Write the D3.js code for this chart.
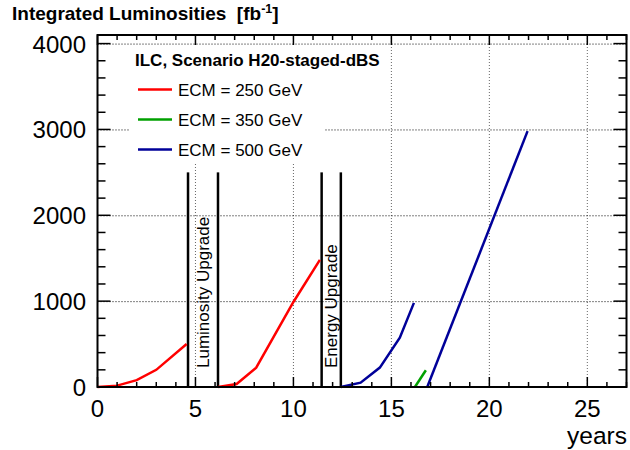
<!DOCTYPE html>
<html><head><meta charset="utf-8">
<script src="https://cdn.jsdelivr.net/npm/d3@7"></script>
<style>body{margin:0;background:#fff}svg{display:block;font-family:"Liberation Sans",Arial,sans-serif}</style>
</head><body>
<script>
// ---- data ----
const xTicks = [0,5,10,15,20,25];
const yTicks = [0,1000,2000,3000,4000];
const seriesNames = ["ECM = 250 GeV","ECM = 350 GeV","ECM = 500 GeV"];
const seriesColors = ["#ff0000","#00a000","#000099"];
const red1 = [[0,0],[1,16],[2,80],[3,200],[4.55,500]];
const red2 = [[6.16,0],[7.1,35],[8.1,225],[10,990],[11.35,1480]];
const green1 = [[16.2,0],[16.76,195]];
const blue1 = [[12.42,0],[13.43,50],[14.41,226],[15.43,575],[16.15,980]];
const blue2 = [[16.83,0],[21.95,2980]];
const upgrades = [{label:"Luminosity Upgrade", x0:4.62, x1:6.15},{label:"Energy Upgrade", x0:11.44, x1:12.42}];
const upgradeHeight = 2500;
const title = "Integrated Luminosities  [fb";
const legendHeader = "ILC, Scenario H20-staged-dBS";

const W=630,H=450;
const L=97.5,R=626.5,T=35,B=387;
const x=d3.scaleLinear().domain([0,27]).range([L,R]);
const y=d3.scaleLinear().domain([0,4100]).range([B,T]);
const svg=d3.select("body").append("svg").attr("width",W).attr("height",H);

// grid
const g=svg.append("g");
g.selectAll(".vg").data(xTicks.filter(d=>d>0)).join("line")
 .attr("x1",d=>x(d)).attr("x2",d=>x(d)).attr("y1",T).attr("y2",B)
 .attr("stroke","#666").attr("stroke-width",1).attr("stroke-dasharray","1,2");
g.selectAll(".hg").data(yTicks.filter(d=>d>0)).join("line")
 .attr("x1",L).attr("x2",R).attr("y1",d=>y(d)+0.5).attr("y2",d=>y(d)+0.5)
 .attr("stroke","#000").attr("stroke-width",1).attr("stroke-dasharray","1,2");

// legend background
svg.append("rect").attr("x",130).attr("y",46).attr("width",195).attr("height",117).attr("fill","#fff");

// upgrade boxes
upgrades.forEach(u=>{
  [u.x0,u.x1].forEach(v=>{
    svg.append("line").attr("x1",x(v)).attr("x2",x(v)).attr("y1",y(0)).attr("y2",y(upgradeHeight))
      .attr("stroke","#000").attr("stroke-width",2.5);
  });
  const cx=(x(u.x0)+x(u.x1))/2;
  svg.append("text").attr("transform",`translate(${cx+6},${y(0)-19}) rotate(-90)`)
    .attr("font-size",17).attr("fill","#000").text(u.label);
});

// lines
const line=d3.line().x(d=>x(d[0])).y(d=>y(d[1]));
[[red1,0],[red2,0],[green1,1],[blue1,2],[blue2,2]].forEach(([d,i])=>{
  svg.append("path").attr("d",line(d)).attr("fill","none").attr("stroke",seriesColors[i]).attr("stroke-width",2.5);
});

// axes frame
svg.append("rect").attr("x",L).attr("y",T).attr("width",R-L).attr("height",B-T).attr("fill","none").attr("stroke","#000").attr("stroke-width",2);

// ticks
d3.range(0,28,1).forEach(v=>{
  const maj=v%5===0; const len=maj?10:5;
  svg.append("line").attr("x1",x(v)).attr("x2",x(v)).attr("y1",B).attr("y2",B-len).attr("stroke","#000").attr("stroke-width",1.5);
  svg.append("line").attr("x1",x(v)).attr("x2",x(v)).attr("y1",T).attr("y2",T+len).attr("stroke","#000").attr("stroke-width",1.5);
});
d3.range(0,4101,200).forEach(v=>{
  const maj=v%1000===0; const len=maj?13:8;
  svg.append("line").attr("x1",L).attr("x2",L+len).attr("y1",y(v)).attr("y2",y(v)).attr("stroke","#000").attr("stroke-width",1.5);
  svg.append("line").attr("x1",R).attr("x2",R-len).attr("y1",y(v)).attr("y2",y(v)).attr("stroke","#000").attr("stroke-width",1.5);
});
svg.selectAll(".xl").data(xTicks).join("text").attr("x",d=>x(d)).attr("y",417)
 .attr("text-anchor","middle").attr("font-size",24).text(d=>d);
svg.selectAll(".yl").data(yTicks).join("text").attr("x",86).attr("y",d=>y(d)+9)
 .attr("text-anchor","end").attr("font-size",24).text(d=>d);
svg.append("text").attr("x",627).attr("y",444).attr("text-anchor","end").attr("font-size",24.5).text("years");

// title
const t=svg.append("text").attr("x",12).attr("y",20).attr("font-size",19).attr("font-weight","bold").style("white-space","pre");
t.append("tspan").text(title);
t.append("tspan").attr("font-size",12.5).attr("dy",-7).text("-1");
t.append("tspan").attr("dy",7).text("]");

// legend
svg.append("text").attr("x",135).attr("y",66).attr("font-size",17).attr("font-weight","bold").text(legendHeader);
seriesNames.forEach((n,i)=>{
  const yy=89.5+i*30;
  svg.append("line").attr("x1",138).attr("x2",172).attr("y1",yy).attr("y2",yy).attr("stroke",seriesColors[i]).attr("stroke-width",2.5);
  svg.append("text").attr("x",178).attr("y",yy+6).attr("font-size",17).text(n);
});
</script>
</body></html>
